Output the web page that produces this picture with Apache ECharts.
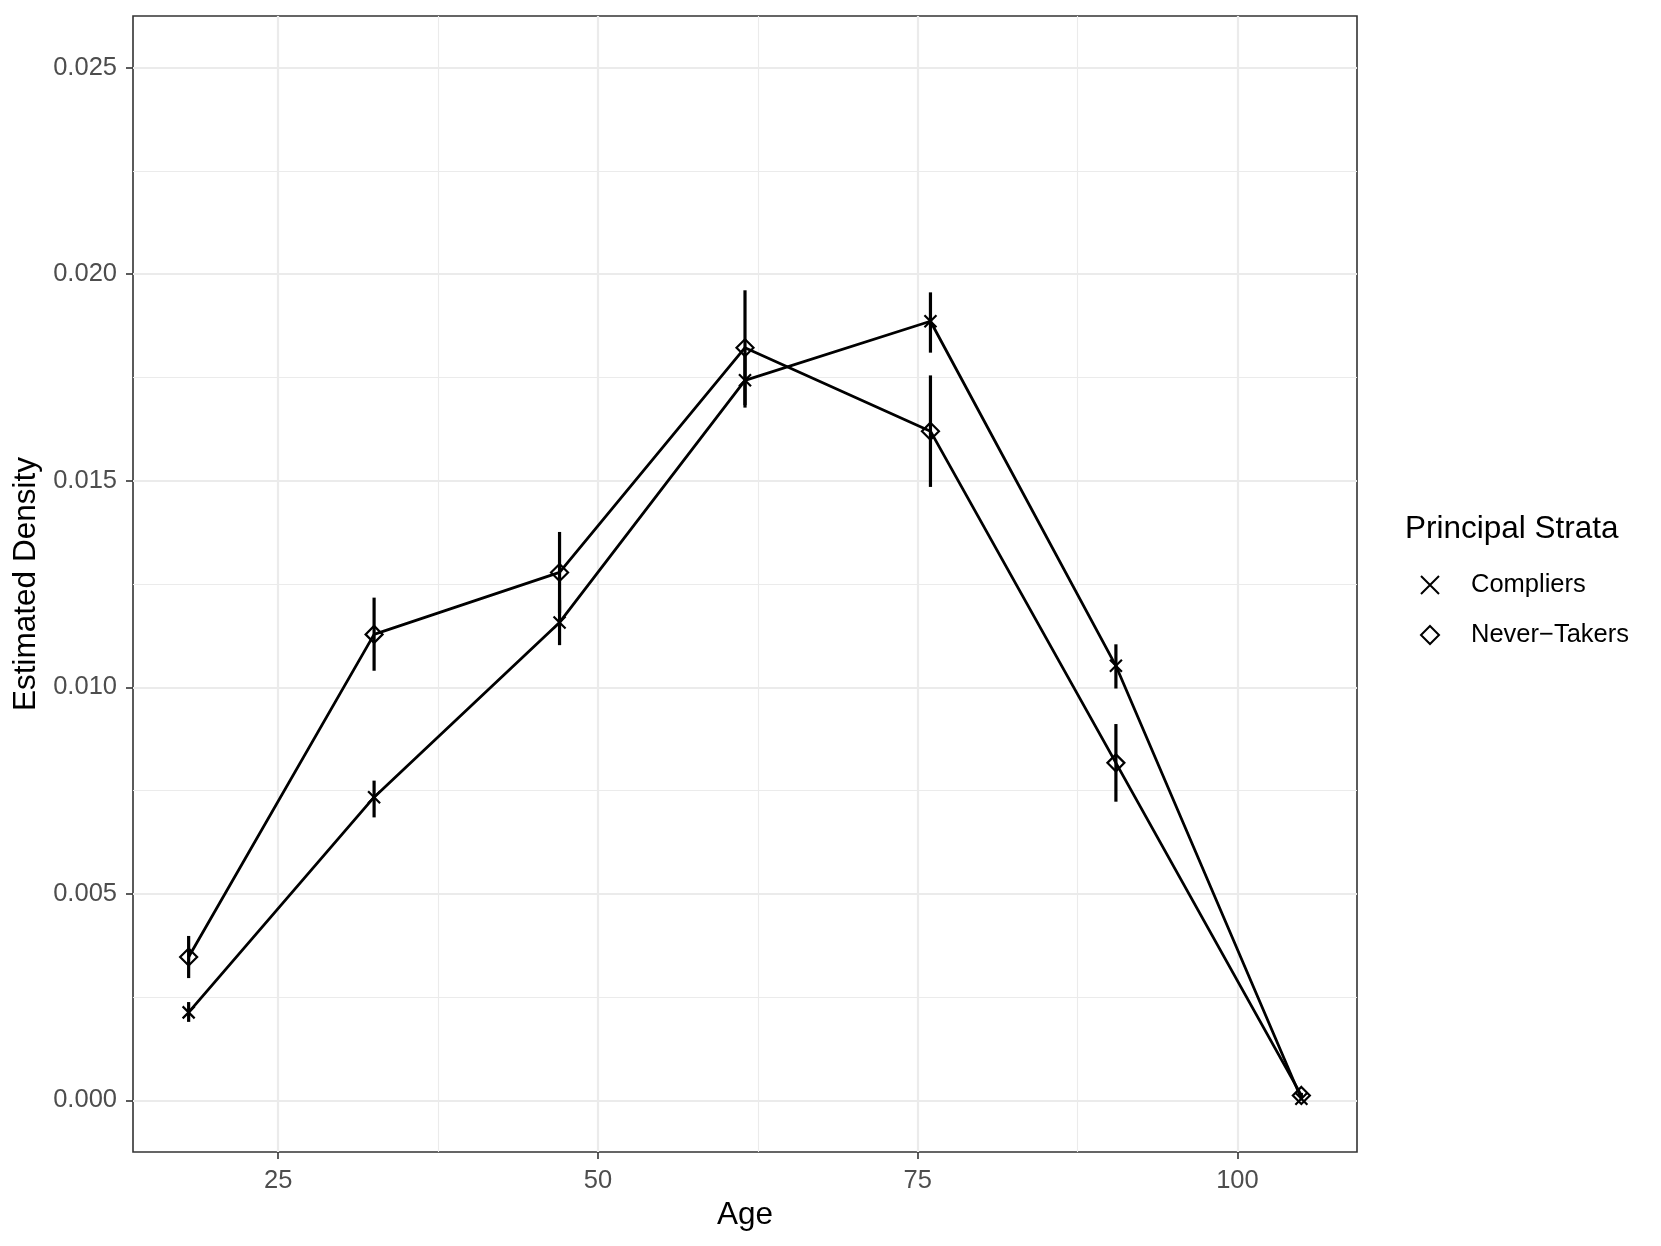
<!DOCTYPE html>
<html>
<head>
<meta charset="utf-8">
<script src="https://cdn.jsdelivr.net/npm/echarts@6/dist/echarts.min.js"></script>
<style>
  html, body { margin: 0; padding: 0; background: #fff; }
  #chart { width: 1661px; height: 1246px; }
</style>
</head>
<body>
<div id="chart"></div>
<script>
// age bin midpoints
var ages = [18, 32.5, 47, 61.5, 76, 90.5, 105];

// Compliers: estimate + interval
var compliers      = [0.00213, 0.00734, 0.01157, 0.01743, 0.01886, 0.01052, 0.00004];
var compliersLower = [0.00190, 0.00685, 0.01102, 0.01677, 0.01810, 0.00997, 0.00000];
var compliersUpper = [0.00238, 0.00774, 0.01211, 0.01809, 0.01956, 0.01104, 0.00008];

// Never-Takers: estimate + interval
var neverTakers = [0.00347, 0.01128, 0.01278, 0.01822, 0.01620, 0.00817, 0.00012];
var ntLower     = [0.00296, 0.01040, 0.01180, 0.01683, 0.01485, 0.00723, 0.00006];
var ntUpper     = [0.00398, 0.01217, 0.01376, 0.01961, 0.01755, 0.00911, 0.00018];

var xTicks = [25, 50, 75, 100];
var xMinor = [37.5, 62.5, 87.5];
var yTicks = [0, 0.005, 0.010, 0.015, 0.020, 0.025];
var yMinor = [0.0025, 0.0075, 0.0125, 0.0175, 0.0225];

var crossPath = 'path://M0,0L10,10M10,0L0,10';

function pairs(xs, ys) {
    return xs.map(function (x, i) { return [x, ys[i]]; });
}

function errorData(xs, lo, hi) {
    return xs.map(function (x, i) { return [x, lo[i], hi[i]]; });
}

function errorBar(params, api) {
    var p1 = api.coord([api.value(0), api.value(1)]);
    var p2 = api.coord([api.value(0), api.value(2)]);
    return {
        type: 'line',
        shape: { x1: p1[0], y1: p1[1], x2: p2[0], y2: p2[1] },
        style: { stroke: '#000', lineWidth: 3.2 }
    };
}

var tickFont = { fontFamily: 'Liberation Sans', fontSize: 25.5, color: '#4D4D4D' };
var gridLine = { color: '#EBEBEB', width: 2.2 };
var minorLine = { color: '#EBEBEB', width: 1.1 };

var chart = echarts.init(document.getElementById('chart'));
var option = {
    backgroundColor: '#fff',
    animation: false,
    title: {
        text: 'Principal Strata',
        left: 1405,
        top: 511,
        padding: 0,
        textStyle: { fontFamily: 'Liberation Sans', fontSize: 31.5, fontWeight: 'normal', color: '#000', lineHeight: 36 }
    },
    legend: {
        orient: 'vertical',
        left: 1420,
        top: 572,
        padding: 0,
        itemWidth: 18,
        itemHeight: 18,
        itemGap: 24,
        selectedMode: false,
        textStyle: { fontFamily: 'Liberation Sans', fontSize: 25.5, color: '#000', lineHeight: 26, padding: [0, 0, 0, 27] },
        data: [
            { name: 'Compliers', icon: crossPath, itemStyle: { color: 'transparent', borderColor: '#000', borderWidth: 2 } },
            { name: 'Never\u2212Takers', icon: 'diamond', itemStyle: { color: 'transparent', borderColor: '#000', borderWidth: 2 } }
        ]
    },
    grid: {
        left: 133,
        right: 304,
        top: 16,
        bottom: 94,
        show: true,
        borderColor: '#333',
        borderWidth: 1.6,
        backgroundColor: 'transparent'
    },
    xAxis: [{
        type: 'value',
        min: 13.65,
        max: 109.35,
        name: 'Age',
        nameLocation: 'middle',
        nameGap: 43,
        nameTextStyle: { fontFamily: 'Liberation Sans', fontSize: 31.5, color: '#000' },
        axisLine: { show: false, onZero: false },
        axisTick: { show: true, length: 7, customValues: xTicks, lineStyle: { color: '#333', width: 1.6 } },
        axisLabel: Object.assign({ margin: 16, customValues: xTicks }, tickFont),
        splitLine: { show: true, lineStyle: gridLine }
    }, {
        type: 'value',
        min: 13.65,
        max: 109.35,
        axisLine: { show: false, onZero: false },
        axisTick: { show: false, customValues: xMinor },
        axisLabel: { show: false },
        splitLine: { show: true, lineStyle: minorLine }
    }],
    yAxis: [{
        type: 'value',
        min: -0.00125,
        max: 0.02625,
        name: 'Estimated Density',
        nameLocation: 'middle',
        nameGap: 89,
        nameTextStyle: { fontFamily: 'Liberation Sans', fontSize: 31.5, color: '#000' },
        axisLine: { show: false, onZero: false },
        axisTick: { show: true, length: 7, customValues: yTicks, lineStyle: { color: '#333', width: 1.6 } },
        axisLabel: Object.assign({
            margin: 16,
            customValues: yTicks,
            formatter: function (v) { return v.toFixed(3); }
        }, tickFont),
        splitLine: { show: true, lineStyle: gridLine }
    }, {
        type: 'value',
        min: -0.00125,
        max: 0.02625,
        axisLine: { show: false, onZero: false },
        axisTick: { show: false, customValues: yMinor },
        axisLabel: { show: false },
        splitLine: { show: true, lineStyle: minorLine }
    }],
    series: [
        {
            name: 'Compliers',
            type: 'line',
            data: pairs(ages, compliers),
            symbol: crossPath,
            symbolSize: 12,
            showAllSymbol: true,
            lineStyle: { color: '#000', width: 2.8 },
            itemStyle: { color: 'transparent', borderColor: '#000', borderWidth: 2.2 },
            z: 3
        },
        {
            name: 'Never\u2212Takers',
            type: 'line',
            data: pairs(ages, neverTakers),
            symbol: 'diamond',
            symbolSize: 17,
            showAllSymbol: true,
            lineStyle: { color: '#000', width: 2.8 },
            itemStyle: { color: 'transparent', borderColor: '#000', borderWidth: 2.2 },
            z: 3
        },
        {
            name: 'compliersCI',
            type: 'custom',
            renderItem: errorBar,
            data: errorData(ages, compliersLower, compliersUpper),
            z: 4
        },
        {
            name: 'ntCI',
            type: 'custom',
            renderItem: errorBar,
            data: errorData(ages, ntLower, ntUpper),
            z: 4
        }
    ]
};
chart.setOption(option);
</script>
</body>
</html>
